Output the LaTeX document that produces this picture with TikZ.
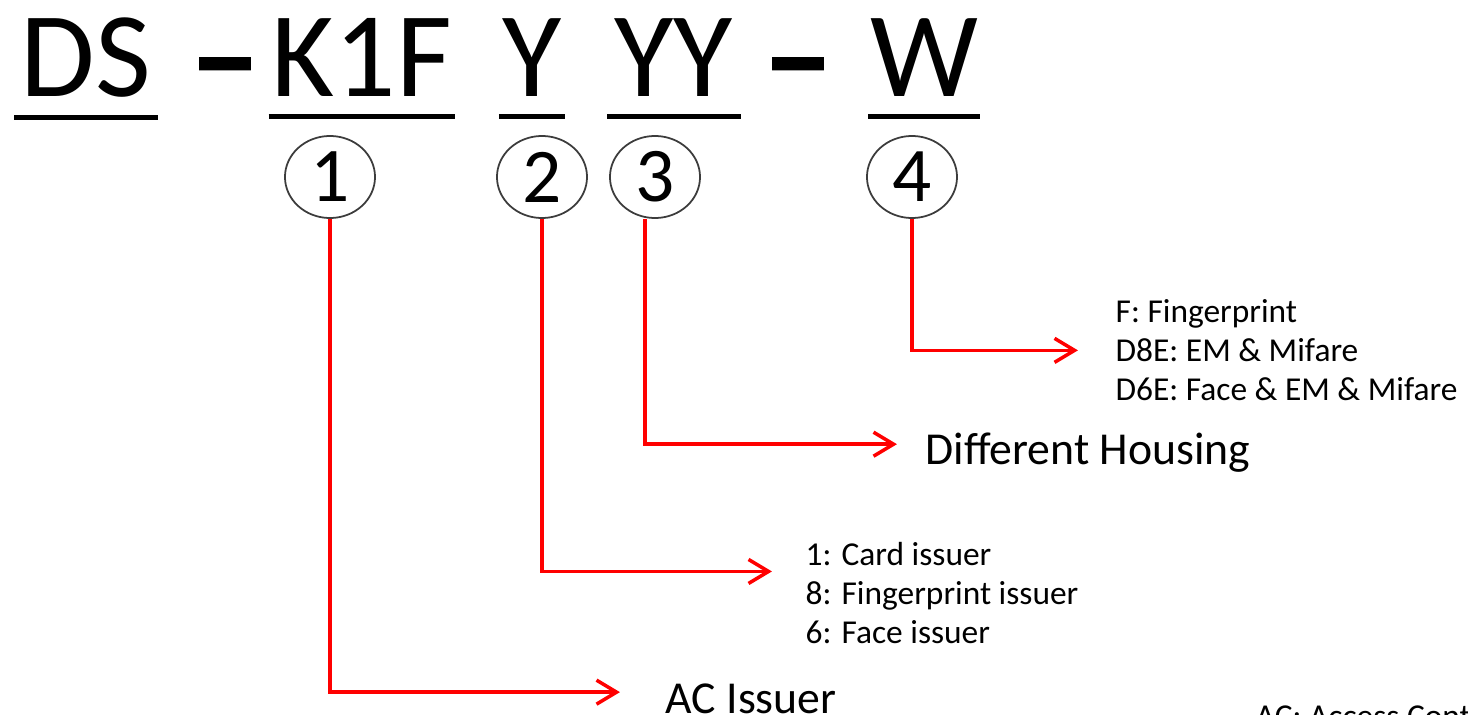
\documentclass[tikz,border=0pt]{standalone}
\usepackage{fontspec}
\setmainfont{Carlito}
\newfontfamily\dashfont[FakeBold=4]{Carlito}
\usetikzlibrary{shapes.geometric, arrows.meta, positioning, calc}
\definecolor{leadred}{HTML}{FF0000}
\definecolor{ringgray}{HTML}{3C3C3C}

\begin{document}
\begin{tikzpicture}[x=0.01cm, y=-0.01cm,
  code/.style={inner xsep=0pt, inner ysep=0.19cm, anchor=base, font=\fontsize{34.5}{40}\selectfont},
  joiner/.style={inner sep=0pt, anchor=base, font=\dashfont\fontsize{37}{42}\selectfont},
  uline/.style={line width=1.4pt},
  ring/.style={draw=ringgray, line width=0.5pt, ellipse, minimum width=0.9cm, minimum height=0.82cm,
               inner sep=0pt, font=\fontsize{22}{26}\selectfont},
  lead/.style={draw=leadred, line width=1pt, -{Straight Barb[length=2mm, width=2.4mm, line width=1pt]}},
  big/.style={anchor=base west, inner sep=0pt, text depth=0pt, font=\fontsize{13}{16}\selectfont},
  small/.style={anchor=north west, inner sep=0pt, align=left, font=\fontsize{9.5}{11.1}\selectfont}]
  \clip (0,0) rectangle (1468,715);

  \node[code, minimum width=1.42cm] (ds) at (86,97) {DS};
  \node[joiner] (dash1) at (225,100) {–};
  \node[code, minimum width=1.85cm] (k1f) at (362,97) {K1F};
  \node[code, minimum width=0.65cm] (y1) at (532,97) {Y};
  \node[code, minimum width=1.32cm] (yy) at (674,97) {YY};
  \node[joiner] (dash2) at (798,100) {–};
  \node[code, minimum width=1.10cm] (w) at (924,97) {W};
  \foreach \seg in {ds,k1f,y1,yy,w}
    \draw[uline] (\seg.south west) -- (\seg.south east);

  \node[ring] (c1) at (330,177) {1};
  \node[ring] (c2) at (542,177) {2};
  \node[ring] (c3) at (655,177) {3};
  \node[ring] (c4) at (912,177) {4};

  \node[big] (acissuer) at (665,713) {AC Issuer};
  \node[small] (issuer) at (805,542) {1: Card issuer\\8: Fingerprint issuer\\6: Face issuer};
  \node[big] (housing) at (925,465) {Different Housing};
  \node[small] (reader) at (1115,299) {F: Fingerprint\\D8E: EM \& Mifare\\D6E: Face \& EM \& Mifare};
  \node[small, anchor=base west] (acnote) at (1255,728) {AC: Access Control};

  \draw[lead, shorten >=0.45cm] (c1.south) |- ([yshift=0.06cm]acissuer.west);
  \draw[lead, shorten >=0.33cm] (c2.south) |- ([yshift=0.22cm]issuer.west);
  \draw[lead, shorten >=0.28cm] ([xshift=-0.1cm]c3.south) |- ([yshift=0.05cm]housing.west);
  \draw[lead, shorten >=0.37cm] (c4.south) |- (reader.west);
\end{tikzpicture}
\end{document}
